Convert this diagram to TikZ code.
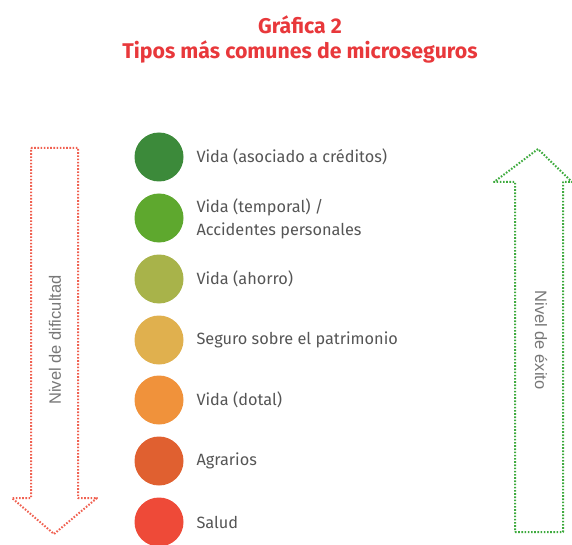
\documentclass[tikz,border=0pt]{standalone}
\usepackage{fontspec}
\setmainfont{Fira Sans}
\newfontfamily\arialish{Liberation Sans}
\definecolor{tred}{HTML}{E8383B}
\definecolor{tgray}{HTML}{555555}
\definecolor{agray}{HTML}{777777}
\definecolor{ared}{HTML}{F06050}
\definecolor{agreen}{HTML}{3DAA3D}
\definecolor{c1}{HTML}{3C8A3A}
\definecolor{c2}{HTML}{5EA82E}
\definecolor{c3}{HTML}{A8B34A}
\definecolor{c4}{HTML}{E0B04E}
\definecolor{c5}{HTML}{F0923B}
\definecolor{c6}{HTML}{E06030}
\definecolor{c7}{HTML}{EE4A38}
\begin{document}
\begin{tikzpicture}[x=1pt,y=-1pt,
  dot/.style={circle,minimum size=49pt,inner sep=0pt,fill=#1},
  lbl/.style={anchor=west,text=tgray,font=\fontsize{16.3}{23}\selectfont,align=left},
  arr/.style={draw=#1,line width=2pt,dash pattern=on 1.6pt off 1.6pt,line join=round},
  side/.style={text=agray,font=\arialish\fontsize{16.5}{19}\selectfont}]
\useasboundingbox (0,0) rectangle (572,545);
\node[text=tred,font=\bfseries\fontsize{21.3}{25}\selectfont,align=center] (title) at (300,39) {Gráfica 2\\Tipos más comunes de microseguros};
\draw[arr=ared] (31,148) -- (78,148) -- (78,498) -- (97,498) -- (54,534) -- (12,498) -- (31,498) -- cycle;
\draw[arr=agreen] (515,532) -- (563,532) -- (563,182) -- (572,182) -- (538,149) -- (494,182) -- (515,182) -- cycle;
\node[side,rotate=90] (ldif) at (55,340) {Nivel de dificultad};
\node[side,rotate=-90] (lexi) at (541,340) {Nivel de éxito};
\node[dot=c1] (d1) at (159,157) {};
\node[dot=c2] (d2) at (159,218) {};
\node[dot=c3] (d3) at (159,279) {};
\node[dot=c4] (d4) at (159,340) {};
\node[dot=c5] (d5) at (159,400) {};
\node[dot=c6] (d6) at (159,461) {};
\node[dot=c7] (d7) at (159,522) {};
\node[lbl] (t1) at (193,157) {Vida (asociado a créditos)};
\node[lbl] (t2) at (193,219) {Vida (temporal) /\\Accidentes personales};
\node[lbl] (t3) at (193,279) {Vida (ahorro)};
\node[lbl] (t4) at (193,340) {Seguro sobre el patrimonio};
\node[lbl] (t5) at (193,400) {Vida (dotal)};
\node[lbl] (t6) at (193,461) {Agrarios};
\node[lbl] (t7) at (193,522) {Salud};
\end{tikzpicture}
\end{document}
